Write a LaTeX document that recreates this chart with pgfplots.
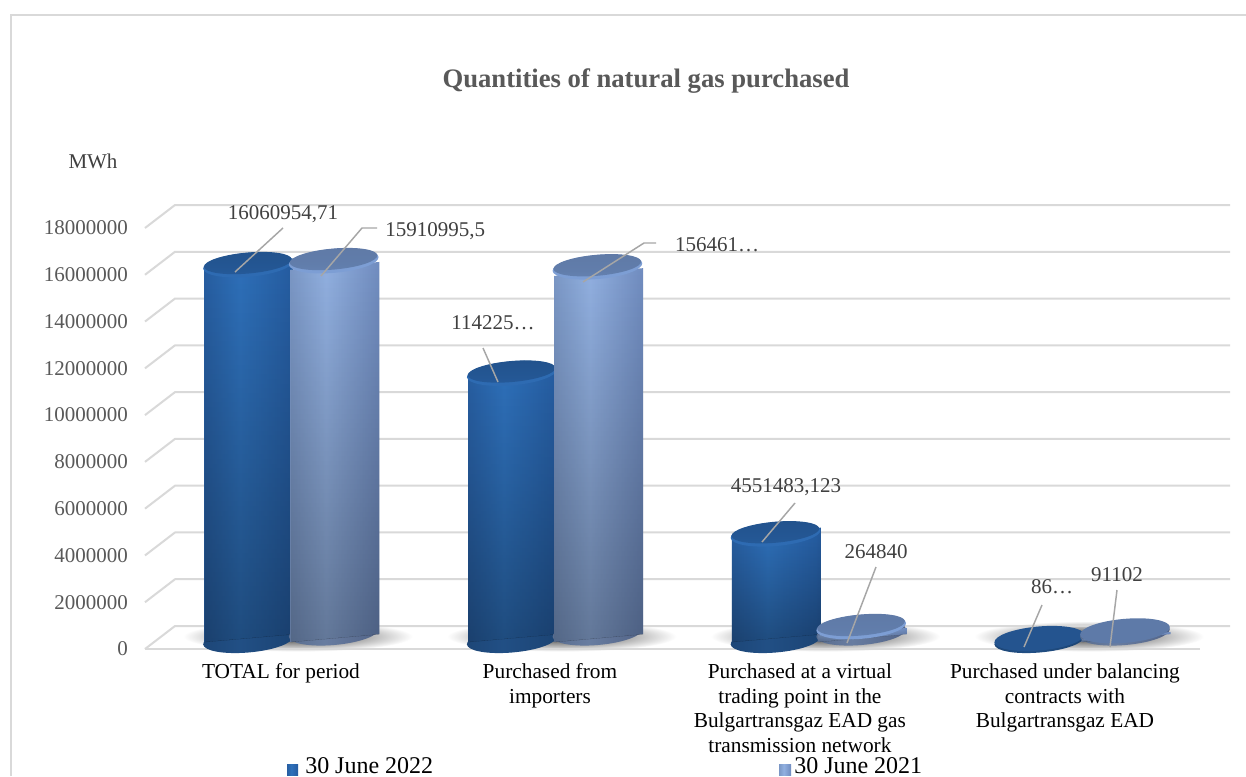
\documentclass[border=0pt]{standalone}
\usepackage{fontspec}
\setmainfont{Liberation Serif}
\usepackage{pgfplots}
\pgfplotsset{compat=1.18}
\usepackage{pgfplotstable}
\usetikzlibrary{shapes.geometric,fadings}

% Data: group index and purchased quantity in MWh
\pgfplotstableread{
x y
0 16060954.71
1 11422500
2 4551483.123
3 86000
}\seriesA
\pgfplotstableread{
x y
0 15910995.5
1 15646100
2 264840
3 91102
}\seriesB
\pgfplotstableread{
x y
0 0
1 0
2 0
3 0
}\floorline

\definecolor{gridgray}{HTML}{D9D9D9}
\definecolor{leader}{HTML}{A6A6A6}
\definecolor{labeltext}{HTML}{404040}
\definecolor{ticktext}{HTML}{595959}
\definecolor{darkrim}{rgb}{0.18,0.42,0.70}
\definecolor{lightrim}{rgb}{0.49,0.62,0.83}

% Side shading of the cylinders
\pgfdeclarehorizontalshading{darkside}{100bp}{
 rgb(0bp)=(0.10,0.25,0.44); rgb(22bp)=(0.15,0.36,0.62); rgb(45bp)=(0.18,0.44,0.73);
 rgb(72bp)=(0.15,0.37,0.64); rgb(100bp)=(0.08,0.21,0.38)}
\pgfdeclarehorizontalshading{lightside}{100bp}{
 rgb(0bp)=(0.30,0.36,0.49); rgb(20bp)=(0.46,0.57,0.75); rgb(45bp)=(0.57,0.69,0.88);
 rgb(75bp)=(0.44,0.55,0.75); rgb(100bp)=(0.26,0.32,0.46)}
\pgfdeclarehorizontalshading{darkbase}{100bp}{
 rgb(0bp)=(0.07,0.18,0.32); rgb(22bp)=(0.11,0.27,0.46); rgb(45bp)=(0.13,0.31,0.52);
 rgb(72bp)=(0.11,0.27,0.46); rgb(100bp)=(0.06,0.15,0.28)}
\pgfdeclarehorizontalshading{lightbase}{100bp}{
 rgb(0bp)=(0.22,0.27,0.37); rgb(20bp)=(0.33,0.41,0.54); rgb(45bp)=(0.41,0.49,0.63);
 rgb(75bp)=(0.32,0.39,0.53); rgb(100bp)=(0.19,0.24,0.34)}
% Top faces of the cylinders
\pgfdeclareverticalshading{darkcap}{100bp}{
 rgb(0bp)=(0.16,0.38,0.64); rgb(40bp)=(0.14,0.34,0.58); rgb(100bp)=(0.13,0.31,0.53)}
\pgfdeclareverticalshading{lightcap}{100bp}{
 rgb(0bp)=(0.42,0.54,0.73); rgb(40bp)=(0.38,0.49,0.67); rgb(100bp)=(0.37,0.47,0.64)}
\tikzfading[name=barfade, top color=transparent!100, bottom color=transparent!68]

% One picture pixel is 0.75pt; the cylinders stand half way back on the floor
\tikzset{
  cyl node/.style={shape=ellipse, inner sep=0pt, minimum width=67.5pt,
    minimum height=18pt, rotate=5, anchor=center, yshift=8.25pt},
  cap node/.style={shape=ellipse, inner sep=0pt, minimum width=66pt,
    minimum height=15.75pt, rotate=5, anchor=center, yshift=9.6pt},
}
% Bars are slanted to follow the tilt of the ellipses; the shift keeps each bar's
% centre in place (#1 is the group index, #2 the offset of the bar in its group).
\pgfplotsset{
  cyl bar/.style 2 args={ybar, bar width=66.75pt, bar shift=#2, draw=none,
    xshift=11.25pt, yshift={8.25pt-0.0875*(197.8125pt*(#1+0.5)+#2)}, yslant=0.0875,
    restrict x to domain=#1:#1},
  cyl fade/.style 2 args={ybar, bar width=66.75pt, bar shift=#2, draw=none,
    xshift=11.25pt, yshift={8pt-0.0875*(197.8125pt*(#1+0.5)+#2)}, yslant=0.0875,
    restrict x to domain=#1:#1, fill=black, path fading=barfade},
  ellipses/.style={draw=none, mark=none, nodes near coords={},
    every node near coord/.append style={#1}},
}

\begin{document}
\begin{tikzpicture}
\fill[white, use as bounding box] (-108.75pt,-95.25pt) rectangle (825.75pt,486.75pt);
\begin{axis}[
  scale only axis, width=791.25pt, height=315.75pt,
  xmin=-0.5, xmax=3.5, ymin=0, ymax=18000000,
  clip=false, clip mode=individual,
  axis line style={draw=none},
  major tick length=0pt,
  tick style={draw=none},
  ytick={0,2000000,4000000,6000000,8000000,10000000,12000000,14000000,16000000,18000000},
  scaled y ticks=false,
  yticklabel style={
    /pgf/number format/fixed, /pgf/number format/1000 sep={},
    /pgf/number format/assume math mode=true,
    font=\fontsize{15.75pt}{18pt}\selectfont, text=ticktext,
    anchor=east, xshift=-9.4pt},
  xtick={0.0156,1.0355,1.983,2.988},
  xticklabels={
    TOTAL for period,
    Purchased from\\importers,
    Purchased at a virtual\\trading point in the\\Bulgartransgaz EAD gas\\transmission network,
    Purchased under balancing\\contracts with\\Bulgartransgaz EAD},
  xticklabel style={align=center, font=\fontsize{16pt}{18.4pt}\selectfont,
    text=black, anchor=north, yshift=-7.6pt},
]
% contact shadow on the floor, one per group
\addplot[ellipses={shape=ellipse, inner sep=0pt,
    minimum width=172pt, minimum height=23pt, anchor=center, xshift=15.75pt, yshift=9.5pt,
    shade, inner color=black!78, outer color=white}] table[x=x,y=y] {\floorline};

% floor and back wall
\pgfplotsinvokeforeach{0,2000000,4000000,6000000,8000000,10000000,12000000,14000000,16000000,18000000}{
  \draw[gridgray, line width=1.5pt, line join=round]
    (axis cs:-0.5,#1) -- ++(22.5pt,17.25pt) -- ++(791.25pt,0pt);
}
\draw[gridgray, line width=1.5pt] (axis cs:-0.5,0) -- (axis cs:3.5,0);

% Each cylinder is its own plot, so that its shading spans that bar alone.
% first series
\addplot[ellipses={cyl node, xshift=-21pt, shading=darkbase}] table[x=x,y expr=0] {\seriesA};
\pgfplotsinvokeforeach{0,1,2,3}{
  \addplot[cyl bar={#1}{-32.25pt}, shading=darkside] table[x=x,y=y] {\seriesA};
  \addplot[cyl fade={#1}{-32.25pt}] table[x=x,y=y] {\seriesA};
}
\addplot[ellipses={cyl node, xshift=-21pt, fill=darkrim}, restrict x to domain=0:2] table[x=x,y=y] {\seriesA};
\addplot[ellipses={cap node, xshift=-21pt, shading=darkcap}, restrict x to domain=0:2] table[x=x,y=y] {\seriesA};
\addplot[ellipses={cyl node, xshift=-21pt, fill={rgb,1:red,0.14;green,0.33;blue,0.56}}, restrict x to domain=3:3] table[x=x,y=y] {\seriesA};

% second series
\addplot[ellipses={cyl node, xshift=43.5pt, shading=lightbase}] table[x=x,y expr=0] {\seriesB};
\pgfplotsinvokeforeach{0,1,2,3}{
  \addplot[cyl bar={#1}{32.25pt}, shading=lightside] table[x=x,y=y] {\seriesB};
  \addplot[cyl fade={#1}{32.25pt}] table[x=x,y=y] {\seriesB};
}
\addplot[ellipses={cyl node, xshift=43.5pt, fill=lightrim}, restrict x to domain=0:2] table[x=x,y=y] {\seriesB};
\addplot[ellipses={cap node, xshift=43.5pt, shading=lightcap}, restrict x to domain=0:2] table[x=x,y=y] {\seriesB};
\addplot[ellipses={cyl node, xshift=43.5pt, fill={rgb,1:red,0.37;green,0.48;blue,0.66}}, restrict x to domain=3:3] table[x=x,y=y] {\seriesB};
\end{axis}

% Annotations, positioned in picture pixels measured from the top left corner
\begin{scope}[x=0.75pt, y=-0.75pt, shift={(-145,-649)}]
  % chart frame
  \draw[gridgray, line width=1.5pt] (11,776) -- (11,15) -- (1246,15);
  % title and unit
  \node[anchor=base, text=ticktext, font=\fontsize{20pt}{22pt}\selectfont\bfseries] at (646,88) {Quantities of natural gas purchased};
  \node[anchor=base, text=labeltext, inner sep=0pt, font=\fontsize{15.75pt}{18pt}\selectfont] at (93,169) {MWh};
  % leader lines
  \begin{scope}[leader, line width=1.1pt]
    \draw (235,272) -- (283,228);
    \draw (321,276) -- (362,228) -- (377,228);
    \draw (498,382) -- (483,348);
    \draw (583,282) -- (644,243) -- (656,243);
    \draw (762,542) -- (795,503);
    \draw (847,643) -- (876,567);
    \draw (1024,647) -- (1042,605);
    \draw (1110,647) -- (1117,590);
  \end{scope}
  % value labels
  \begin{scope}[every node/.style={anchor=base, inner sep=0pt, text=labeltext, font=\fontsize{15.75pt}{18pt}\selectfont}]
    \node at (283,219) {16060954,71};
    \node[anchor=base west] at (385,236) {15910995,5};
    \node at (493,329) {114225…};
    \node at (717,251) {156461…};
    \node at (786,492) {4551483,123};
    \node at (876,558) {264840};
    \node at (1052,593) {86…};
    \node at (1117,581) {91102};
  \end{scope}
  % legend
  \shade[shading=darkside] (287,764) rectangle (298,775);
  \node[anchor=base west, inner sep=0pt, font=\fontsize{18pt}{20pt}\selectfont] at (305,773) {30 June 2022};
  \shade[shading=lightside] (779,764) rectangle (791,775);
  \node[anchor=base west, inner sep=0pt, font=\fontsize{18pt}{20pt}\selectfont] at (794,773) {30 June 2021};
\end{scope}
\end{tikzpicture}
\end{document}
